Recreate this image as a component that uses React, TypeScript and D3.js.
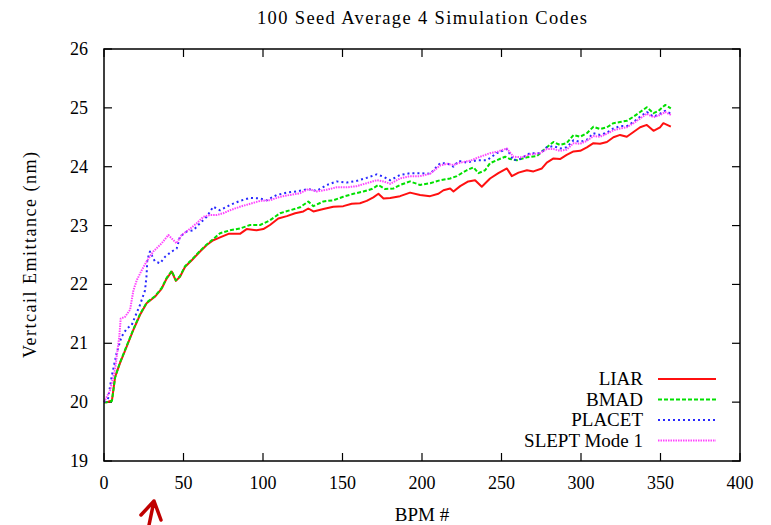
import React from 'react';
import * as d3 from 'd3';

const TITLE = '100 Seed Average 4 Simulation Codes';
const X_LABEL = 'BPM #';
const Y_LABEL = 'Vertcail Emittance (nm)';
const X_TICKS = [0, 50, 100, 150, 200, 250, 300, 350, 400];
const Y_TICKS = [19, 20, 21, 22, 23, 24, 25, 26];
const SERIES_NAMES = ['LIAR', 'BMAD', 'PLACET', 'SLEPT Mode 1'];

const LIAR: [number, number][] = [
  [0, 20.0], [2, 20.0], [5, 20.03], [7, 20.43], [10, 20.66], [14.2, 20.94], [18.5, 21.23], [22.6, 21.48],
  [26.8, 21.68], [32, 21.79], [36.3, 21.93], [39.4, 22.1], [42.6, 22.22], [45.2, 22.06], [47.8, 22.13],
  [51, 22.3], [55.2, 22.41], [60.4, 22.56], [64.6, 22.67], [68.7, 22.75], [73, 22.8], [78.3, 22.86],
  [85.5, 22.86], [89.7, 22.94], [96, 22.92], [100.2, 22.94], [104.4, 23.01], [109.6, 23.12], [115, 23.16],
  [120.2, 23.21], [125.4, 23.24], [128.5, 23.29], [131.7, 23.24], [138, 23.28], [144.2, 23.32],
  [150.5, 23.33], [155.8, 23.37], [161, 23.38], [165.2, 23.42], [169.4, 23.48], [172.6, 23.54],
  [175.8, 23.46], [180, 23.47], [186.2, 23.5], [192.5, 23.56], [198.8, 23.52], [205.1, 23.5],
  [210.3, 23.54], [213.5, 23.6], [217.7, 23.63], [219.8, 23.58], [224, 23.67], [229.1, 23.75],
  [233.4, 23.77], [237.6, 23.66], [242.8, 23.8], [248, 23.89], [253.4, 23.97], [256.5, 23.84],
  [260.7, 23.9], [266, 23.94], [270.1, 23.92], [275.4, 23.97], [278.5, 24.07], [282.7, 24.14],
  [286.8, 24.13], [291, 24.2], [295.3, 24.26], [299.5, 24.27], [303.7, 24.33], [307.8, 24.4],
  [312, 24.39], [316.3, 24.42], [320.4, 24.5], [324.6, 24.54], [328.8, 24.51], [333, 24.59],
  [337.2, 24.67], [341.4, 24.71], [345.6, 24.61], [349.7, 24.67], [351.8, 24.74], [356.5, 24.68],
];

const BMAD: [number, number][] = [
  [0, 20.0], [2, 20.0], [5, 20.02], [7, 20.42], [10, 20.67], [14.2, 20.95], [18.5, 21.24], [22.6, 21.49],
  [26.8, 21.69], [32, 21.8], [36.3, 21.94], [39.4, 22.11], [42.6, 22.23], [45.2, 22.07], [47.8, 22.14],
  [51, 22.31], [55.2, 22.42], [60.4, 22.57], [64.6, 22.68], [68.7, 22.77], [73, 22.87], [79.3, 22.92],
  [85.5, 22.95], [91.9, 23.01], [98.2, 23.01], [104.4, 23.09], [110.7, 23.21], [117, 23.26],
  [123.3, 23.31], [128.5, 23.41], [131.7, 23.33], [138, 23.41], [144.2, 23.43], [150.5, 23.49],
  [156.9, 23.54], [163.1, 23.58], [168.4, 23.62], [172.6, 23.69], [176.8, 23.62], [182, 23.63],
  [186.2, 23.69], [192.5, 23.75], [198.8, 23.69], [205.1, 23.72], [211.4, 23.77], [217.7, 23.8],
  [221.9, 23.84], [228.2, 23.94], [232.4, 23.99], [235.5, 23.89], [239.7, 23.94], [242.8, 24.06],
  [247, 24.11], [252.3, 24.17], [255.4, 24.13], [259.6, 24.11], [266, 24.16], [272.2, 24.18],
  [278.5, 24.33], [282.7, 24.42], [286.8, 24.37], [291, 24.4], [295.3, 24.54], [299.5, 24.51],
  [303.7, 24.57], [307.8, 24.68], [312, 24.64], [316.3, 24.67], [320.4, 24.74], [324.6, 24.76],
  [328.8, 24.78], [333, 24.85], [337.2, 24.93], [341.4, 25.01], [345.6, 24.91], [348.7, 24.95],
  [352.9, 25.05], [356.5, 24.99],
];

const PLACET: [number, number][] = [
  [0, 20.0], [2.5, 20.05], [4.8, 20.43], [7.9, 20.83], [11, 21.11], [14.3, 21.25], [17.4, 21.31],
  [19.5, 21.45], [22.6, 21.65], [25.8, 21.9], [26.8, 22.16], [27.2, 22.41], [28.9, 22.56], [32, 22.39],
  [35.3, 22.36], [38.4, 22.47], [42.6, 22.56], [45.7, 22.61], [47.8, 22.81], [52, 22.9], [56.2, 22.92],
  [60.4, 23.04], [64.6, 23.15], [68.7, 23.32], [73, 23.26], [79.3, 23.35], [85.5, 23.42], [91.9, 23.47],
  [98.2, 23.46], [102.3, 23.43], [108.6, 23.52], [115, 23.56], [121.2, 23.58], [128.5, 23.62],
  [133.8, 23.59], [140.1, 23.69], [146.4, 23.75], [152.7, 23.73], [159, 23.76], [165.2, 23.81],
  [171.5, 23.87], [175.8, 23.83], [180, 23.77], [186.2, 23.86], [192.5, 23.89], [198.8, 23.89],
  [205.1, 23.88], [211.4, 24.06], [215.6, 24.06], [219.8, 24.0], [223, 24.1], [228.2, 24.07],
  [234.5, 24.11], [240.8, 24.11], [247, 24.23], [253.4, 24.3], [257.5, 24.11], [261.7, 24.13],
  [268, 24.23], [274.3, 24.23], [278.5, 24.33], [282.7, 24.35], [286.8, 24.31], [291, 24.33],
  [295.3, 24.45], [299.5, 24.42], [303.7, 24.46], [307.8, 24.57], [312, 24.54], [316.3, 24.58],
  [320.4, 24.65], [324.6, 24.69], [328.8, 24.69], [333, 24.76], [337.2, 24.85], [341.4, 24.93],
  [345.6, 24.85], [349.7, 24.9], [352.9, 24.95], [356.5, 24.9],
];

const SLEPT: [number, number][] = [
  [0, 20.0], [3.8, 20.2], [6.9, 20.55], [9.6, 21.11], [10.5, 21.42], [13.2, 21.45], [16.4, 21.57],
  [18.5, 21.9], [20.6, 22.07], [23.7, 22.24], [26.8, 22.39], [31, 22.56], [36.3, 22.7], [40.5, 22.84],
  [42.6, 22.78], [45.7, 22.7], [48.8, 22.84], [53, 22.92], [58.3, 23.04], [62.5, 23.15], [66.7, 23.18],
  [70.9, 23.18], [75, 23.21], [79.3, 23.26], [85.5, 23.32], [91.9, 23.37], [98.2, 23.42], [104.4, 23.43],
  [110.7, 23.49], [117, 23.52], [123.3, 23.55], [128.5, 23.62], [133.8, 23.58], [140.1, 23.61],
  [146.4, 23.65], [152.7, 23.65], [159, 23.67], [165.2, 23.72], [171.5, 23.77], [175.8, 23.75],
  [180, 23.71], [186.2, 23.8], [192.5, 23.84], [198.8, 23.84], [205.1, 23.88], [211.4, 24.02],
  [215.6, 24.05], [219.8, 24.03], [224, 24.07], [230.1, 24.1], [236.6, 24.17], [242.8, 24.23],
  [248, 24.26], [253.4, 24.31], [257.5, 24.17], [262.8, 24.16], [268, 24.21], [274.3, 24.23],
  [278.5, 24.3], [282.7, 24.3], [286.8, 24.27], [291, 24.29], [295.3, 24.4], [299.5, 24.39],
  [303.7, 24.44], [307.8, 24.52], [312, 24.51], [316.3, 24.56], [320.4, 24.62], [324.6, 24.65],
  [328.8, 24.67], [333, 24.74], [337.2, 24.82], [341.4, 24.9], [345.6, 24.84], [349.7, 24.88],
  [352.9, 24.93], [356.5, 24.88],
];

const SERIES_DATA = [LIAR, BMAD, PLACET, SLEPT];
const COLORS = ['#ff1010', '#00e000', '#2828ff', '#ff44ff'];
const DASHES = ['none', '4 2', '2 3', '1.5 1'];

const W = 771;
const H = 525;
const L = 104;
const R = 740;
const T = 49;
const B = 461;
const FONT = '"Liberation Serif", "Times New Roman", serif';

export default function App() {
  const x = d3.scaleLinear().domain([0, 400]).range([L, R]);
  const y = d3.scaleLinear().domain([19, 26]).range([B, T]);
  const line = d3
    .line<[number, number]>()
    .x((d) => x(d[0]))
    .y((d) => y(d[1]));
  const tickLen = 8;
  const legendY = (i: number) => 379 + i * 20.5;

  return (
    <svg
      width={W}
      height={H}
      viewBox={`0 0 ${W} ${H}`}
      style={{ position: 'absolute', left: 0, top: 0, background: '#fff' }}
    >
      <rect x={0} y={0} width={W} height={H} fill="#fff" />
      <text
        x={(L + R) / 2}
        y={24}
        textAnchor="middle"
        fontFamily={FONT}
        fontSize={18.5}
        textLength={330}
        lengthAdjust="spacing"
      >
        {TITLE}
      </text>

      {/* ticks */}
      {X_TICKS.map((t) => (
        <g key={'xt' + t}>
          <line x1={x(t)} x2={x(t)} y1={B} y2={B - tickLen} stroke="#000" strokeWidth={1.2} />
          <line x1={x(t)} x2={x(t)} y1={T} y2={T + tickLen} stroke="#000" strokeWidth={1.2} />
          <text x={x(t)} y={489} textAnchor="middle" fontFamily={FONT} fontSize={18}>
            {t}
          </text>
        </g>
      ))}
      {Y_TICKS.map((t) => (
        <g key={'yt' + t}>
          <line x1={L} x2={L + tickLen} y1={y(t)} y2={y(t)} stroke="#000" strokeWidth={1.2} />
          <line x1={R} x2={R - tickLen} y1={y(t)} y2={y(t)} stroke="#000" strokeWidth={1.2} />
          <text x={88} y={y(t) + 6} textAnchor="end" fontFamily={FONT} fontSize={18}>
            {t}
          </text>
        </g>
      ))}

      {/* series */}
      {SERIES_DATA.map((d, i) => (
        <path
          key={'s' + i}
          d={line(d) || ''}
          fill="none"
          stroke={COLORS[i]}
          strokeWidth={2}
          strokeDasharray={DASHES[i]}
          strokeLinejoin="round"
        />
      ))}

      {/* legend */}
      {SERIES_NAMES.map((n, i) => (
        <g key={'lg' + i}>
          <text x={643} y={legendY(i) + 6} textAnchor="end" fontFamily={FONT} fontSize={19}>
            {n}
          </text>
          <line
            x1={658}
            x2={716}
            y1={legendY(i)}
            y2={legendY(i)}
            stroke={COLORS[i]}
            strokeWidth={2}
            strokeDasharray={DASHES[i]}
          />
        </g>
      ))}

      {/* frame */}
      <rect x={L} y={T} width={R - L} height={B - T} fill="none" stroke="#000" strokeWidth={1.5} />

      <text x={(L + R) / 2} y={521} textAnchor="middle" fontFamily={FONT} fontSize={19}>
        {X_LABEL}
      </text>
      <text
        transform={`translate(36, ${(T + B) / 2}) rotate(-90)`}
        textAnchor="middle"
        fontFamily={FONT}
        fontSize={18}
        textLength={206}
        lengthAdjust="spacing"
      >
        {Y_LABEL}
      </text>

      {/* red arrow annotation */}
      <path
        d="M141,515 L154,501 L161,520 M154,501 L149,525"
        fill="none"
        stroke="#c00000"
        strokeWidth={3.5}
        strokeLinecap="round"
        strokeLinejoin="round"
      />
    </svg>
  );
}
